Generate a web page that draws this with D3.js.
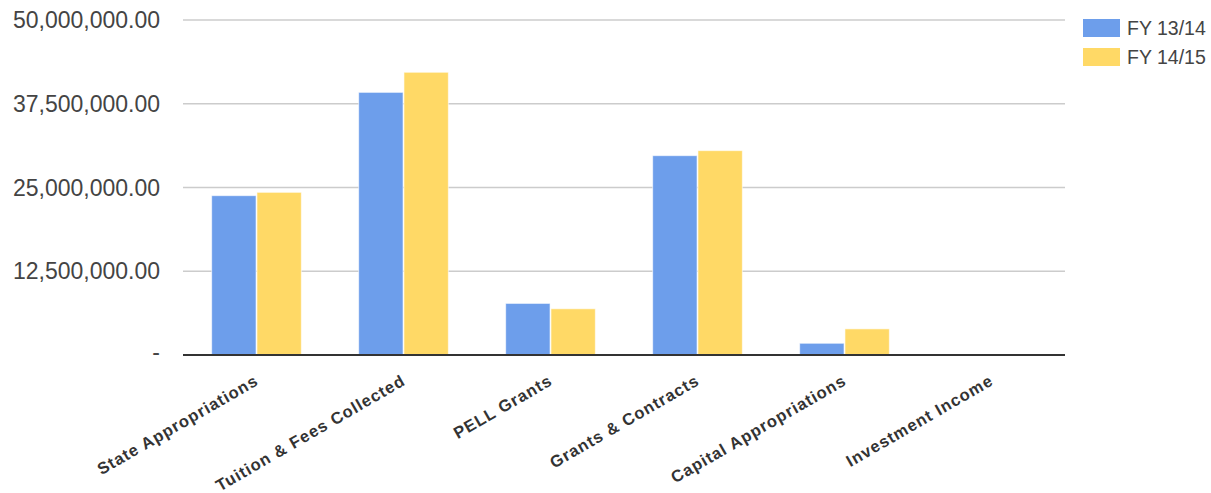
<!DOCTYPE html>
<html>
<head>
<meta charset="utf-8">
<script src="https://d3js.org/d3.v7.min.js"></script>
<style>
  body { margin: 0; background: #fff; }
  svg { display: block; font-family: "Liberation Sans", Arial, sans-serif; }
</style>
</head>
<body>
<div id="chart"></div>
<script>
const categories = ["State Appropriations", "Tuition & Fees Collected", "PELL Grants",
                    "Grants & Contracts", "Capital Appropriations", "Investment Income"];
const seriesNames = ["FY 13/14", "FY 14/15"];
const fy1314 = [23780000, 39200000, 7700000, 29750000, 1750000, 0];
const fy1415 = [24280000, 42200000, 6900000, 30500000, 3900000, 0];
const yTicks = [0, 12500000, 25000000, 37500000, 50000000];
const colors = ["#6d9eeb", "#ffd966"];

const w = 1211, h = 493;
const margin = {top: 20, right: 146, bottom: 138, left: 183};

const svg = d3.select("#chart").append("svg")
    .attr("width", w)
    .attr("height", h);

const x = d3.scaleBand()
    .domain(categories)
    .range([margin.left, w - margin.right])
    .paddingInner(0.39)
    .paddingOuter(0.195);

const xs = d3.scaleBand()
    .domain(seriesNames)
    .range([0, x.bandwidth()])
    .paddingInner(0.02);

const y = d3.scaleLinear()
    .domain([0, 50000000])
    .range([h - margin.bottom, margin.top]);

// gridlines
svg.append("g")
  .selectAll("line")
  .data(yTicks.slice(1))
  .join("line")
    .attr("x1", margin.left)
    .attr("x2", w - margin.right)
    .attr("y1", d => y(d))
    .attr("y2", d => y(d))
    .attr("stroke", "#cccccc")
    .attr("stroke-width", 1.5);

// y labels
const fmt = d => d === 0 ? "-" : d3.format(",.2f")(d);
svg.append("g")
  .selectAll("text")
  .data(yTicks)
  .join("text")
    .attr("x", 160)
    .attr("y", d => y(d))
    .attr("dy", d => d === 0 ? "0.2em" : "0.35em")
    .attr("text-anchor", "end")
    .attr("font-size", "23px")
    .attr("fill", "#444")
    .text(fmt);

// bars
const data = categories.map((c, i) => ({cat: c, vals: [fy1314[i], fy1415[i]]}));
const groups = svg.append("g")
  .selectAll("g")
  .data(data)
  .join("g")
    .attr("transform", d => `translate(${x(d.cat)},0)`);

groups.selectAll("rect")
  .data(d => d.vals.map((v, j) => ({name: seriesNames[j], v: v, j: j})))
  .join("rect")
    .attr("x", d => xs(d.name))
    .attr("width", xs.bandwidth())
    .attr("y", d => y(d.v))
    .attr("height", d => y(0) - y(d.v))
    .attr("fill", d => colors[d.j])
    .attr("stroke", "#fff")
    .attr("stroke-opacity", 0.6)
    .attr("stroke-width", 1);

// baseline
svg.append("line")
    .attr("x1", margin.left)
    .attr("x2", w - margin.right)
    .attr("y1", y(0))
    .attr("y2", y(0))
    .attr("stroke", "#333")
    .attr("stroke-width", 2);

// x labels
svg.append("g")
  .selectAll("text")
  .data(categories)
  .join("text")
    .attr("transform", d => `translate(${x(d) + x.bandwidth() / 2 + 3},${y(0) + 29}) rotate(-30)`)
    .attr("text-anchor", "end")
    .attr("font-size", "16.5px")
    .attr("font-weight", "bold")
    .attr("letter-spacing", "1px")
    .attr("fill", "#333")
    .text(d => d);

// legend
const legend = svg.append("g")
  .selectAll("g")
  .data(seriesNames)
  .join("g")
    .attr("transform", (d, i) => `translate(1083,${19 + i * 29})`);

legend.append("rect")
    .attr("width", 37)
    .attr("height", 18)
    .attr("fill", (d, i) => colors[i]);

legend.append("text")
    .attr("x", 44)
    .attr("y", 9)
    .attr("dy", "0.35em")
    .attr("font-size", "19.5px")
    .attr("fill", "#444")
    .text(d => d);
</script>
</body>
</html>
